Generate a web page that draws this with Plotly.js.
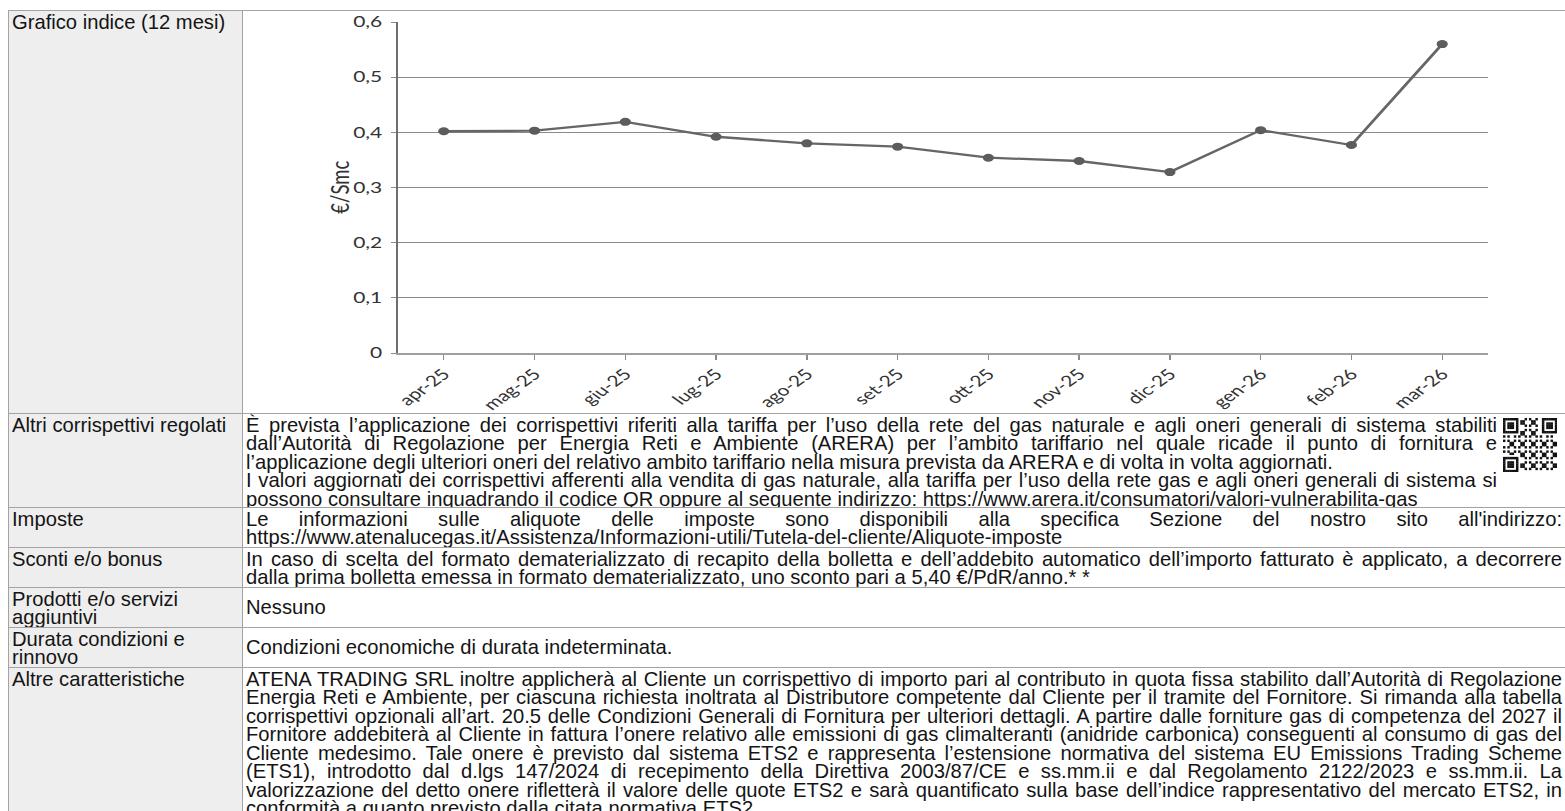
<!DOCTYPE html>
<html>
<head>
<meta charset="utf-8">
<script src="https://cdn.plot.ly/plotly-3.0.1.min.js"></script>
<style>
  html, body { margin:0; padding:0; }
  body { width:1565px; height:811px; overflow:hidden; background:#fff;
         font-family:"Liberation Sans", Arial, sans-serif; color:#141414; position:relative; }
  .cell { position:absolute; box-sizing:border-box; border-top:1px solid #a3a3a3; border-left:1px solid #a3a3a3; }
  .lab { left:8px; width:234px; background:#eeeeee; padding-left:3px; }
  .val { left:242px; width:1400px; background:#fff; padding-left:3px; }
  .ln { height:18.5px; line-height:18.5px; font-size:20.2px; white-space:nowrap; }
  .j { text-align:justify; text-align-last:justify; }
  #chart { position:absolute; left:243px; top:11px; transform-origin:0 0; }
  #qr { position:absolute; left:1503px; top:418px; }
</style>
</head>
<body>
<div id="page"></div>
<div id="chart"></div>
<canvas id="qr" width="54" height="54"></canvas>
<script>
// ---------- chart data ----------
const months = ['apr-25','mag-25','giu-25','lug-25','ago-25','set-25','ott-25','nov-25','dic-25','gen-26','feb-26','mar-26'];
const indexValues = [0.402,0.403,0.419,0.392,0.380,0.374,0.354,0.348,0.328,0.404,0.377,0.560];
const yAxisTitle = '€/Smc';

// ---------- table texts ----------
const rowLabels = [
  ['Grafico indice (12 mesi)'],
  ['Altri corrispettivi regolati'],
  ['Imposte'],
  ['Sconti e/o bonus'],
  ['Prodotti e/o servizi','aggiuntivi'],
  ['Durata condizioni e','rinnovo'],
  ['Altre caratteristiche']
];
const altriLines = [
  ['È prevista l’applicazione dei corrispettivi riferiti alla tariffa per l’uso della rete del gas naturale e agli oneri generali di sistema stabiliti', true],
  ['dall’Autorità di Regolazione per Energia Reti e Ambiente (ARERA) per l’ambito tariffario nel quale ricade il punto di fornitura e', true],
  ['l’applicazione degli ulteriori oneri del relativo ambito tariffario nella misura prevista da ARERA e di volta in volta aggiornati.', false],
  ['I valori aggiornati dei corrispettivi afferenti alla vendita di gas naturale, alla tariffa per l’uso della rete gas e agli oneri generali di sistema si', true],
  ['possono consultare inquadrando il codice QR oppure al seguente indirizzo: https://www.arera.it/consumatori/valori-vulnerabilita-gas', false]
];
const imposteLines = [
  ['Le informazioni sulle aliquote delle imposte sono disponibili alla specifica Sezione del nostro sito all\'indirizzo:', true],
  ['https://www.atenalucegas.it/Assistenza/Informazioni-utili/Tutela-del-cliente/Aliquote-imposte', false]
];
const scontiLines = [
  ['In caso di scelta del formato dematerializzato di recapito della bolletta e dell’addebito automatico dell’importo fatturato è applicato, a decorrere', true],
  ['dalla prima bolletta emessa in formato dematerializzato, uno sconto pari a 5,40 €/PdR/anno.* *', false]
];
const prodottiLines = [['Nessuno', false]];
const durataLines = [['Condizioni economiche di durata indeterminata.', false]];
const altreLines = [
  ['ATENA TRADING SRL inoltre applicherà al Cliente un corrispettivo di importo pari al contributo in quota fissa stabilito dall’Autorità di Regolazione', true],
  ['Energia Reti e Ambiente, per ciascuna richiesta inoltrata al Distributore competente dal Cliente per il tramite del Fornitore. Si rimanda alla tabella', true],
  ['corrispettivi opzionali all’art. 20.5 delle Condizioni Generali di Fornitura per ulteriori dettagli. A partire dalle forniture gas di competenza del 2027 il', true],
  ['Fornitore addebiterà al Cliente in fattura l’onere relativo alle emissioni di gas climalteranti (anidride carbonica) conseguenti al consumo di gas del', true],
  ['Cliente medesimo. Tale onere è previsto dal sistema ETS2 e rappresenta l’estensione normativa del sistema EU Emissions Trading Scheme', true],
  ['(ETS1), introdotto dal d.lgs 147/2024 di recepimento della Direttiva 2003/87/CE e ss.mm.ii e dal Regolamento 2122/2023 e ss.mm.ii. La', true],
  ['valorizzazione del detto onere rifletterà il valore delle quote ETS2 e sarà quantificato sulla base dell’indice rappresentativo del mercato ETS2, in', true],
  ['conformità a quanto previsto dalla citata normativa ETS2.', false]
];

// ---------- build table ----------
const rowGeom = [
  {top:10, h:403, valLines:null, textW:0, center:false},
  {top:413, h:94, valLines:altriLines, textW:1251, center:false},
  {top:507, h:40, valLines:imposteLines, textW:1316, center:false},
  {top:547, h:40, valLines:scontiLines, textW:1316, center:false},
  {top:587, h:40, valLines:prodottiLines, textW:1316, center:true},
  {top:627, h:40, valLines:durataLines, textW:1316, center:true},
  {top:667, h:200, valLines:altreLines, textW:1316, center:false}
];
const page = document.getElementById('page');
rowGeom.forEach((g, i) => {
  const lab = document.createElement('div');
  lab.className = 'cell lab';
  lab.style.top = g.top + 'px'; lab.style.height = g.h + 'px';
  lab.style.paddingTop = '1.5px';
  rowLabels[i].forEach(t => {
    const d = document.createElement('div'); d.className = 'ln'; d.textContent = t; lab.appendChild(d);
  });
  page.appendChild(lab);
  const val = document.createElement('div');
  val.className = 'cell val';
  val.style.top = g.top + 'px'; val.style.height = g.h + 'px';
  if (g.valLines) {
    const n = g.valLines.length;
    val.style.paddingTop = g.center ? ((g.h - 1 - n*18.5)/2) + 'px' : '1.5px';
    g.valLines.forEach(([t, just]) => {
      const d = document.createElement('div');
      d.className = 'ln' + (just ? ' j' : '');
      d.style.width = g.textW + 'px';
      d.textContent = t; val.appendChild(d);
    });
  }
  page.appendChild(val);
});

// ---------- QR-like code (decorative) ----------
(function(){
  const c = document.getElementById('qr').getContext('2d');
  const N = 25, m = 54 / N;
  c.fillStyle = '#fff'; c.fillRect(0,0,54,54);
  c.fillStyle = '#111';
  const finder = (r0, c0) => {
    for (let r=0;r<7;r++) for (let q=0;q<7;q++) {
      const edge = r===0||r===6||q===0||q===6;
      const core = r>=2&&r<=4&&q>=2&&q<=4;
      if (edge||core) c.fillRect((c0+q)*m,(r0+r)*m,m+0.3,m+0.3);
    }
  };
  const inFinder = (r,q) => (r<8&&q<8)||(r<8&&q>=N-8)||(r>=N-8&&q<8);
  for (let r=0;r<N;r++) for (let q=0;q<N;q++) {
    if (inFinder(r,q)) continue;
    if (((r*7 + q*13 + r*q*3) % 5) < 2) c.fillRect(q*m, r*m, m+0.3, m+0.3);
  }
  finder(0,0); finder(0,N-7); finder(N-7,0);
})();

// ---------- chart ----------
const K = 1.4;                 // horizontal stretch of the embedded chart picture
const pageW = 1322, pageH = 401;
const chartW = pageW / K;
const plotLeftPage = 155, plotRightPage = 1245;
const mL = plotLeftPage / K, mR = chartW - plotRightPage / K;
const mT = 11, mB = 59;
const plotW = chartW - mL - mR;
const chartDiv = document.getElementById('chart');
chartDiv.style.width = chartW + 'px';
chartDiv.style.height = pageH + 'px';
chartDiv.style.transform = 'scaleX(' + K + ')';

const trace = {
  type:'scatter', mode:'lines+markers',
  x: months, y: indexValues,
  line:{color:'#666666', width:2.3},
  marker:{color:'#5c5c5c', size:8},
  hoverinfo:'x+y'
};
const layout = {
  width: chartW, height: pageH,
  margin:{l:mL, r:mR, t:mT, b:mB, pad:0},
  paper_bgcolor:'rgba(0,0,0,0)', plot_bgcolor:'#fff',
  separators:',.',
  showlegend:false,
  font:{family:'Lato, "Open Sans", sans-serif', color:'#333333'},
  xaxis:{
    type:'category', range:[-0.5, 11.5], automargin:false,
    showgrid:false, zeroline:false,
    showline:true, linecolor:'#a0a0a0', linewidth:1.5,
    ticks:'outside', ticklen:5, tickwidth:1, tickcolor:'#8a8a8a',
    tickangle:-45, tickfont:{size:15, color:'#333333'}
  },
  yaxis:{
    range:[0, 0.6], dtick:0.1, tick0:0, automargin:false,
    showgrid:true, gridcolor:'#8a8a8a', gridwidth:1,
    zeroline:false, showline:true, linecolor:'#6e6e6e', linewidth:1.5,
    ticks:'outside', ticklen:4, tickwidth:1, tickcolor:'#8a8a8a',
    tickfont:{size:15, color:'#333333'}, ticklabelstandoff:3
  },
  annotations:[{
    text: yAxisTitle, xref:'paper', yref:'paper',
    x: ((338 - 243)/K - mL) / plotW, y:0.5,
    xanchor:'center', yanchor:'middle', textangle:-90, showarrow:false,
    font:{size:18.5, color:'#333333'}
  }]
};
Plotly.newPlot(chartDiv, [trace], layout, {displayModeBar:false, staticPlot:true});
</script>
</body>
</html>
